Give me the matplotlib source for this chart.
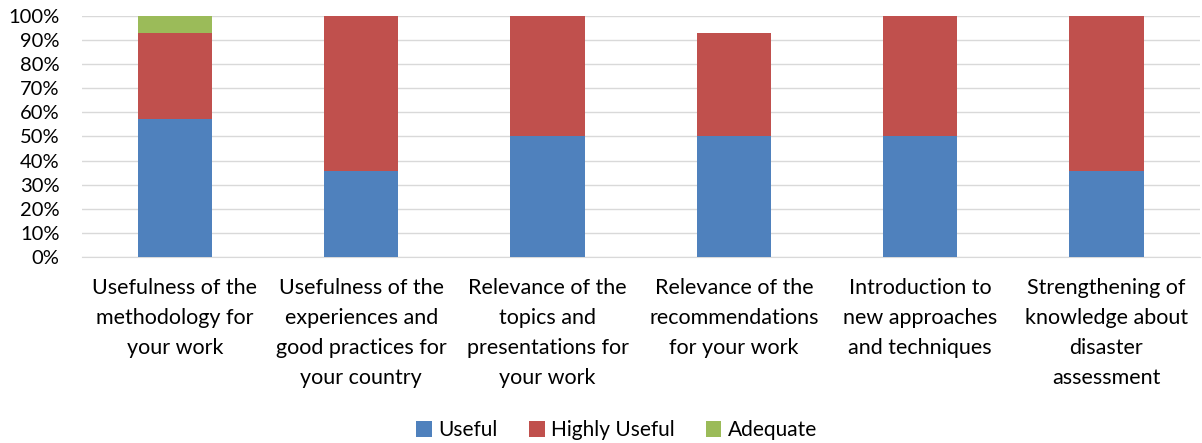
import matplotlib.pyplot as plt
import numpy as np

plt.rcParams['font.family'] = ['Lato', 'DejaVu Sans']

categories = [
    "Usefulness of the\nmethodology for\nyour work",
    "Usefulness of the\nexperiences and\ngood practices for\nyour country",
    "Relevance of the\ntopics and\npresentations for\nyour work",
    "Relevance of the\nrecommendations\nfor your work",
    "Introduction to\nnew approaches\nand techniques",
    "Strengthening of\nknowledge about\ndisaster\nassessment",
]
useful = [57.1, 35.7, 50.0, 50.0, 50.0, 35.7]
highly_useful = [35.7, 64.3, 50.0, 42.9, 50.0, 64.3]
adequate = [7.1, 0.0, 0.0, 0.0, 0.0, 0.0]

series_names = ["Useful", "Highly Useful", "Adequate"]
colors = ["#4f81bd", "#c0504d", "#9bbb59"]

fig = plt.figure(figsize=(12.02, 4.43), dpi=100)
ax = fig.add_axes([0.068, 0.42, 0.93, 0.544])

x = np.arange(len(categories))
bar_width = 0.4
bottom = np.zeros(len(categories))
for name, vals, c in zip(series_names, [useful, highly_useful, adequate], colors):
    ax.bar(x, vals, width=bar_width, bottom=bottom, color=c, label=name, zorder=3)
    bottom += np.array(vals)

ax.set_xlim(-0.5, len(categories) - 0.5)
ax.set_ylim(0, 100)
ax.set_yticks(np.arange(0, 101, 10))
ax.set_yticklabels([f"{v}%" for v in range(0, 101, 10)], fontsize=14.5)
ax.set_xticks(x)
ax.set_xticklabels(categories, fontsize=15.5, linespacing=1.62, va="top")
ax.tick_params(axis="both", length=0)
ax.tick_params(axis="x", pad=15)
ax.tick_params(axis="y", pad=16)
ax.grid(axis="y", color="#d9d9d9", linewidth=1, zorder=0)
for s in ["top", "right", "left"]:
    ax.spines[s].set_visible(False)
ax.spines["bottom"].set_color("#d9d9d9")

fig.legend(loc="lower center", bbox_to_anchor=(0.513, -0.036), ncol=3, frameon=False,
           fontsize=15, handlelength=0.75, handleheight=0.75, handletextpad=0.3,
           columnspacing=1.5)

plt.savefig("out.png", dpi=100)
